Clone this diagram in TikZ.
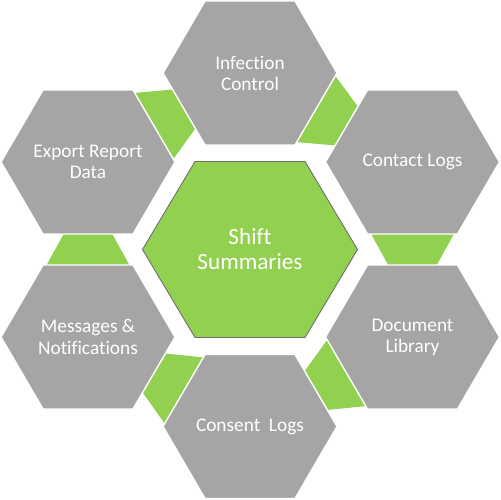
\documentclass[tikz,border=0pt]{standalone}
\usepackage{fontspec}
\setmainfont[Ligatures={NoCommon,NoRequired,NoContextual}]{Carlito}
\usetikzlibrary{calc}

\definecolor{cellgrey}{HTML}{A5A5A5}
\definecolor{cellgreen}{HTML}{92D050}
\definecolor{hubline}{HTML}{6E6E6E}

\tikzset{
  cell/.style={fill=cellgrey,draw=white,line width=0.8pt},
  hub/.style={fill=cellgreen,draw=hubline,line width=0.5pt},
  linkband/.style={fill=cellgreen},
  celltext/.style={text=white,align=center,font=\fontsize{11}{12}\selectfont},
  hubtext/.style={text=white,align=center,font=\fontsize{13.2}{14.2}\selectfont}
}

% corners of an outer cell: name, x, y (y counts down)
\newcommand{\cellat}[3]{%
  \coordinate (#1) at (#2,#3);
  \coordinate (#1-e)  at (#2+87,#3);
  \coordinate (#1-ne) at (#2+45,#3-72);
  \coordinate (#1-nw) at (#2-45,#3-72);
  \coordinate (#1-w)  at (#2-87,#3);
  \coordinate (#1-sw) at (#2-45,#3+72);
  \coordinate (#1-se) at (#2+45,#3+72);}
\newcommand{\cellhex}[1]{%
  \filldraw[cell] (#1-e) -- (#1-ne) -- (#1-nw) -- (#1-w) -- (#1-sw) -- (#1-se) -- cycle;}
% green band: tail edge #1-#2, head edge #3-#4
\newcommand{\celllink}[4]{%
  \fill[linkband] ($(#1)!0.04!(#2)$) -- ($(#1)!0.96!(#2)$)
    -- ($(#3)!0.77!(#4)$) -- ($(#3)!0.23!(#4)$) -- cycle;}

\begin{document}
\begin{tikzpicture}[x=0.02cm,y=-0.02cm]
\useasboundingbox (0,0) rectangle (500,500);

\cellat{infection}{250}{73}
\cellat{contact}{412.5}{162}
\cellat{document}{412.5}{337}
\cellat{consent}{250}{426.5}
\cellat{messages}{88}{337}
\cellat{export}{88}{162}
\coordinate (hub) at (250,249.5);

% bands between the cells, clockwise
\celllink{infection-e}{infection-se}{contact-nw}{contact-w}
\celllink{contact-sw}{contact-se}{document-nw}{document-ne}
\celllink{document-w}{document-sw}{consent-ne}{consent-e}
\celllink{consent-nw}{consent-w}{messages-e}{messages-se}
\celllink{messages-nw}{messages-ne}{export-sw}{export-se}
\celllink{export-ne}{export-e}{infection-w}{infection-sw}

\cellhex{infection}
\cellhex{contact}
\cellhex{document}
\cellhex{consent}
\cellhex{messages}
\cellhex{export}

\filldraw[hub] ($(hub)+(107.5,0)$) -- ($(hub)+(55,-88)$) -- ($(hub)+(-55,-88)$)
  -- ($(hub)+(-107.5,0)$) -- ($(hub)+(-55,88)$) -- ($(hub)+(55,88)$) -- cycle;

\node[celltext] (infection-label) at (infection) {Infection\\Control};
\node[celltext] (contact-label) at (contact) {Contact Logs};
\node[celltext] (document-label) at (document) {Document\\Library};
\node[celltext] (consent-label) at (consent) {Consent\ \ Logs};
\node[celltext] (messages-label) at (messages) {Messages \&\\Notifications};
\node[celltext] (export-label) at (export) {Export Report\\Data};
\node[hubtext] (hub-label) at (hub) {Shift\\Summaries};
\end{tikzpicture}
\end{document}
